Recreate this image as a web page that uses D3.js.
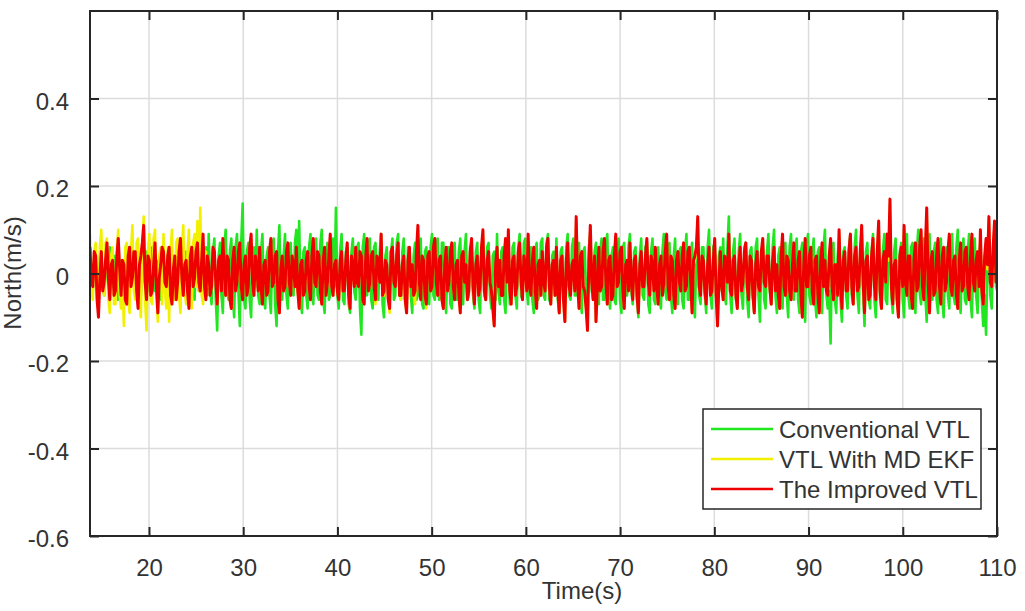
<!DOCTYPE html>
<html>
<head>
<meta charset="utf-8">
<script src="https://cdn.jsdelivr.net/npm/d3@7"></script>
<style>
  html, body { margin: 0; padding: 0; background: #fff; }
  svg { display: block; font-family: "Liberation Sans", Arial, sans-serif; }
</style>
</head>
<body>
<div id="chart"></div>
<script>
// Sampling of the velocity error series (seconds)
const sampleStart = 13.74;
const sampleStep = 0.15;

// North velocity error, in units of 0.01 m/s
const conventionalVTL = [
  3,-2,-4,3,5,-3,-2,4,4,-3,-5,2,2,-4,6,-2,-3,4,4,-3,
  -6,2,3,-4,-2,4,5,-3,-4,2,6,-3,-3,4,2,-4,-5,3,4,-2,
  5,-4,-3,4,6,-2,-4,3,2,-4,-6,3,4,-3,-2,4,5,-3,-5,3,
  3,-3,-4,4,6,-2,-3,4,5,-4,-2,3,4,-3,-6,4,3,-4,5,-2,
  -4,3,6,-5,9,-3,-7,5,8,-6,-13,4,7,-5,-9,6,10,-4,-6,5,
  8,-5,-10,6,9,-4,-12,7,16,-6,-8,5,7,-6,-10,4,6,-3,10,-5,
  -7,5,9,-6,-8,4,6,-5,-9,6,8,-7,-12,5,11,-6,-6,4,9,-5,
  -8,6,7,-4,-5,7,10,-3,12,-6,-9,5,6,-5,-8,6,9,-5,-7,4,
  8,-5,-6,7,10,-6,-9,4,7,-6,-5,6,8,-3,15,-5,-8,5,9,-6,
  -7,5,6,-7,-9,5,8,-4,-6,6,7,-8,-14,6,9,-4,-5,6,8,-6,
  -8,6,7,-5,-6,5,9,-7,-10,4,6,-6,-7,5,8,-6,-5,7,9,-5,
  -6,5,8,-6,-7,6,6,-5,-9,4,7,-6,-5,6,8,-7,-8,5,6,-5,
  -7,6,9,-5,-6,5,8,-6,-5,7,7,-4,-9,6,6,-7,-8,4,7,-6,
  -6,5,8,-7,-7,5,9,-6,-5,6,6,-5,-8,5,7,-6,-9,4,8,-5,
  -6,6,7,-5,-8,4,5,-6,9,-4,-7,5,6,-6,-9,5,8,-7,-5,6,
  7,-5,-8,6,9,-5,-6,7,8,-4,-7,5,6,-6,-9,5,7,-6,-5,7,
  8,-5,-6,7,9,-6,-7,4,5,-5,8,-6,-9,5,6,-6,-7,6,9,-5,
  -6,6,8,-5,-5,6,7,-6,-9,5,6,-5,-8,6,9,-4,-6,5,7,-6,
  -7,5,8,-6,-6,7,9,-5,-8,4,6,-6,-7,5,8,-6,-9,6,7,-5,
  -5,6,9,-4,-7,5,6,-6,-10,4,8,-5,-6,6,7,-7,-9,5,8,-6,
  -7,5,6,-6,-8,5,9,-4,-6,6,7,-5,-9,4,8,-6,-7,5,6,-6,
  -8,5,9,-6,-6,4,7,-6,-10,5,8,-5,-7,6,6,-5,-9,6,10,-5,
  -8,6,7,-5,-9,4,6,-4,8,-5,-7,6,13,-5,-9,5,8,-6,-6,5,
  9,-5,-8,6,7,-6,-10,5,6,-5,-9,6,8,-5,-11,4,7,-6,-8,5,
  9,-4,-7,6,10,-5,-9,4,6,-6,-8,5,7,-5,-10,6,9,-5,-6,6,
  8,-6,-9,5,7,-6,-11,6,9,-5,-7,4,8,-6,-10,5,6,-5,-9,6,
  10,-5,-8,-4,-16,5,7,-6,-9,4,8,-6,-11,5,6,-5,-8,6,9,-5,
  -7,6,10,-5,-9,6,8,-4,-12,5,7,-6,-8,5,9,-6,-10,4,6,-6,
  -8,5,9,-6,-7,6,10,-5,-9,5,8,-6,-6,5,7,-6,-10,6,9,-5,
  -8,6,7,-5,-9,5,10,-4,-7,6,8,-5,-11,4,9,-6,-6,5,7,-6,
  -9,5,8,-6,-10,4,6,-5,-8,6,9,-5,-7,6,10,-5,-9,4,8,-6,
  -7,5,9,-6,-10,5,8,-5,-9,4,7,-6,-12,-5,-14,3,6,-5,-8,4,
  9,-3,-4
];

const mdEkfVTL = [
  9,-4,-6,5,7,-5,-8,6,10,-3,-5,7,8,-6,-9,4,6,-7,-7,6,
  10,-5,-8,-3,-12,6,7,-6,-9,5,11,-4,-6,7,8,-5,-10,6,13,-6,
  -13,5,9,-6,-7,8,10,-5,-11,4,6,-7,9,-4,-8,6,-11,5,10,-6,
  -6,7,8,-5,-9,6,11,-4,-7,5,10,-6,-8,7,9,-3,12,-4,15,-5,
  -7,4,5,-3,1,-5,-3,5,4,-2,-7,2,3,-4,7,0,-5,3,2,-6,
  -8,2,5,-4,-2,4,6,-3,-6,1,3,-5,-3,5,8,-2,-5,3,1,-4,
  5,-3,-7,1,2,-5,-4,4,7,-3,-2,3,4,-6,-9,0,3,-4,-3,4,
  6,-2,-5,3,1,-3,5,-4,-8,1,2,-5,-4,2,4,-3,-6,3,7,-2,
  -3,4,3,-4,-7,2,5,-5,-2,3,8,-3,-5,1,2,-4,-6,2,4,-4,
  -4,2,6,-5,-8,3,1,-3,5,-2,-3,4,3,-6,-7,2,7,-4,-2,3,
  4,-3,-7,3,2,-2,8,-5,-5,2,1,-6,-9,4,5,-2,-3,3,6,-5,
  -6,1,3,-6,-9,2,5,-3,1,-5,-7,4,10,-2,-6,3,2,-5,-8,3,
  4,-4,-3,5,7,-2,-5,2,3,-6,-8,1,5,-4,-2,4,6,-3,-6,1,
  2,-5,-9,3,4,-2,1,-6,-4,4,7,-3,-7,1,3,-5,-3,5,9,-4,
  -6,2,4,-2,-4,-8,-12,1,5,-3,2,-5,-5,3,7,-2,9,-4,-7,2,
  3,-5,-3,4,6,-2,-6,3,1,-4,8,-3,-5,2,5,-4,-8,1,2,-5,
  4,-2,-4,5,7,-3,-7,1,2,-5,5,-4,-9,2,3,-6,-11,2,6,-3,
  -5,1,2,-4,12,-2,-8,3,4,-3,-4,-8,-13,2,10,-2,-6,3,-11,-3,
  5,-4,-3,4,7,-2,-7,2,3,-6,-5,3,8,-3,-2,4,5,-4,-8,1,
  2,-4,6,-2,-6,2,3,-5,-9,1,4,-3,-3,3,7,-2,-5,3,1,-4,
  5,-3,-7,1,3,-5,-2,4,8,-3,-6,3,2,-5,-8,2,4,-2,-4,3,
  6,-4,-3,4,5,-2,-9,2,3,5,12,-3,-5,3,2,-4,-7,1,5,-5,
  -4,2,7,-5,-12,-2,4,-3,-6,3,2,-2,8,-4,-5,2,3,-5,-8,1,
  5,-4,-2,4,6,-3,-6,3,2,-5,-9,1,4,-3,-4,4,7,-2,-3,3,
  3,-3,-7,2,5,-4,1,-5,-8,3,8,-3,-5,3,2,-4,-6,1,6,-4,
  -4,2,4,-5,-10,1,7,-3,-3,3,5,-4,-7,2,3,-5,-9,2,6,-3,
  2,-4,-5,3,7,-3,-6,1,1,-5,9,-2,-8,2,4,-4,-4,4,8,-3,
  -7,3,5,-4,-3,4,10,-2,-9,2,3,-6,-5,3,7,-3,-6,4,11,-4,
  -8,2,4,-2,8,3,16,-3,-7,1,2,-6,-10,3,5,-3,10,-2,-5,3,
  3,-5,-8,2,6,-4,-3,5,9,-3,-6,4,14,-2,-9,2,4,-5,-4,3,
  7,-3,-7,3,5,-4,-2,4,8,-3,-5,2,3,-5,-8,2,6,-4,-3,4,
  5,-3,-6,3,8,-2,-4,2,4,-3,9,-4,-7,3,7,1,12,-2,-3,5,
  11,-2,3
];

const improvedVTL = [
  6,-2,-3,5,4,-6,-10,-1,5,-4,-2,3,7,-1,-6,2,3,-5,-4,4,
  8,1,-5,3,2,-6,-7,4,6,-3,-1,5,5,-4,-8,2,4,7,11,-2,
  -6,4,3,-5,-4,2,7,-3,-9,-1,2,6,5,-2,-3,4,6,-5,-7,1,
  4,-6,-2,5,8,-1,-5,2,3,-4,-8,4,6,-3,-1,5,7,-2,-4,3,
  9,-3,-6,4,2,-5,-3,6,5,-2,-7,3,4,-4,8,1,-5,4,3,-6,
  -8,3,6,-4,-2,5,7,-3,-6,2,4,-5,-3,6,9,-2,-5,4,2,-4,
  6,-3,-7,2,3,-5,-4,5,8,-3,-2,4,5,-6,-9,1,4,-4,-3,5,
  7,-2,-5,4,2,-3,6,-4,-8,2,3,-5,-4,3,5,-3,-6,4,8,-2,
  -3,5,4,-4,-7,3,6,-5,-2,4,9,-3,-5,2,3,-4,-6,3,5,-4,
  -4,3,7,-5,-8,4,2,-3,6,-2,-3,5,4,-6,-7,3,8,-4,-2,4,
  5,-3,-6,4,3,-2,9,-5,-4,3,2,-6,-8,5,6,-2,-3,4,7,-5,
  -5,2,4,-6,-9,3,6,-3,2,-5,-4,5,11,-2,-6,4,3,-5,-7,4,
  5,-4,-3,6,8,-2,-5,3,4,-6,-8,2,6,-4,-2,5,7,-3,-6,2,
  3,-5,-9,4,5,-2,2,-6,-4,5,8,-3,-7,2,4,-5,-3,6,10,-4,
  -6,3,5,-2,-4,-8,-12,2,6,-3,3,-5,-5,4,8,-2,10,-4,-7,3,
  4,-5,-3,5,7,-2,-6,4,2,-4,9,-3,-5,3,6,-4,-8,2,3,-5,
  5,-2,-4,6,8,-3,-7,2,3,-5,6,-4,-9,3,4,-6,-11,3,7,-3,
  -5,2,3,-4,13,-2,-8,4,5,-3,-4,-8,-13,3,11,-2,-6,4,-11,-3,
  6,-4,-3,5,8,-2,-7,3,4,-6,-5,4,9,-3,-2,5,6,-4,-8,2,
  3,-4,7,-2,-6,3,4,-5,-9,2,5,-3,-3,4,8,-2,-5,4,2,-4,
  6,-3,-7,2,4,-5,-2,5,9,-3,-6,4,3,-5,-8,3,5,-2,-4,4,
  7,-4,-3,5,6,-2,-9,3,4,6,13,-3,-5,4,3,-4,-7,2,6,-5,
  -4,3,8,-5,-12,-2,5,-3,-6,4,3,-2,9,-4,-5,3,4,-5,-8,2,
  6,-4,-2,5,7,-3,-6,4,3,-5,-9,2,5,-3,-4,5,8,-2,-3,4,
  4,-3,-7,3,6,-4,2,-5,-8,4,9,-3,-5,4,3,-4,-6,2,7,-4,
  -4,3,5,-5,-10,2,8,-3,-3,4,6,-4,-7,3,4,-5,-9,3,7,-3,
  3,-4,-5,4,8,-3,-6,2,2,-5,10,-2,-8,3,5,-4,-4,5,9,-3,
  -7,4,6,-4,-3,5,11,-2,-9,3,4,-6,-5,4,8,-3,-6,5,12,-4,
  -8,3,5,-2,9,4,17,-3,-7,2,3,-6,-10,4,6,-3,11,-2,-5,4,
  4,-5,-8,3,7,-4,-3,6,10,-3,-6,5,15,-2,-9,3,5,-5,-4,4,
  8,-3,-7,4,6,-4,-2,5,9,-3,-5,3,4,-5,-8,3,7,-4,-3,5,
  6,-3,-6,4,9,-2,-4,3,5,-3,10,-4,-7,4,8,2,13,-2,-3,6,
  12,-2,4
];

const seriesNames = ['Conventional VTL', 'VTL With MD EKF', 'The Improved VTL'];
const seriesColors = ['#22e622', '#f2f000', '#ee0000'];
const seriesWidths = [2.6, 2.6, 3];
const xTicks = [20, 30, 40, 50, 60, 70, 80, 90, 100, 110];
const yTicks = [-0.6, -0.4, -0.2, 0, 0.2, 0.4];

const width = 1025, height = 611;
const margin = { top: 11, right: 28, bottom: 75, left: 90 };
const inkColor = '#262626';
const textColor = '#333';

const svg = d3.select('#chart')
  .append('svg')
  .attr('width', width)
  .attr('height', height);

const x = d3.scaleLinear()
  .domain([13.74, 110])
  .range([margin.left, width - margin.right]);

const y = d3.scaleLinear()
  .domain([-0.6, 0.6])
  .range([height - margin.bottom, margin.top]);

const plotW = x.range()[1] - x.range()[0];
const plotH = y.range()[0] - y.range()[1];

// Grid
const grid = svg.append('g').attr('class', 'grid');
grid.selectAll('line.gx')
  .data(xTicks)
  .enter().append('line')
  .attr('class', 'gx')
  .attr('x1', d => x(d)).attr('x2', d => x(d))
  .attr('y1', margin.top).attr('y2', y.range()[0])
  .attr('stroke', '#dcdcdc')
  .attr('stroke-width', 1.5);
grid.selectAll('line.gy')
  .data(yTicks)
  .enter().append('line')
  .attr('class', 'gy')
  .attr('x1', margin.left).attr('x2', x.range()[1])
  .attr('y1', d => y(d)).attr('y2', d => y(d))
  .attr('stroke', '#dcdcdc')
  .attr('stroke-width', 1.5);

// Clip for the traces
svg.append('clipPath')
  .attr('id', 'plot-clip')
  .append('rect')
  .attr('x', margin.left)
  .attr('y', margin.top)
  .attr('width', plotW)
  .attr('height', plotH);

const line = d3.line()
  .x((d, i) => x(sampleStart + i * sampleStep))
  .y(d => y(d / 100));

const traces = svg.append('g').attr('clip-path', 'url(#plot-clip)');
[conventionalVTL, mdEkfVTL, improvedVTL].forEach((values, k) => {
  traces.append('path')
    .datum(values)
    .attr('d', line)
    .attr('fill', 'none')
    .attr('stroke', seriesColors[k])
    .attr('stroke-width', seriesWidths[k])
    .attr('stroke-linejoin', 'round');
});

// Axes (MATLAB box style, ticks pointing inward)
const tickLen = 9;
const yFormat = d => d === 0 ? '0' : d3.format('.1f')(d).replace('\u2212', '-');
const xAxisBottom = d3.axisBottom(x).tickValues(xTicks).tickSize(-tickLen).tickPadding(tickLen + 14).tickFormat(d3.format('d'));
const xAxisTop = d3.axisTop(x).tickValues(xTicks).tickSize(-tickLen).tickFormat('');
const yAxisLeft = d3.axisLeft(y).tickValues(yTicks).tickSize(-tickLen).tickPadding(tickLen + 12).tickFormat(yFormat);
const yAxisRight = d3.axisRight(y).tickValues(yTicks).tickSize(-tickLen).tickFormat('');

function styleAxis(g) {
  g.select('.domain').remove();
  g.selectAll('.tick line').attr('stroke', inkColor).attr('stroke-width', 2);
  g.selectAll('.tick text')
    .attr('fill', textColor)
    .style('font-size', '24px')
    .style('font-family', '"Liberation Sans", Arial, sans-serif');
}

svg.append('g')
  .attr('transform', `translate(0,${y.range()[0]})`)
  .call(xAxisBottom)
  .call(styleAxis)
  .call(g => g.selectAll('.tick text').attr('dy', '0.71em'));

svg.append('g')
  .attr('transform', `translate(0,${margin.top})`)
  .call(xAxisTop)
  .call(styleAxis);

svg.append('g')
  .attr('transform', `translate(${margin.left},0)`)
  .call(yAxisLeft)
  .call(styleAxis)
  .call(g => g.selectAll('.tick text').attr('dy', '0.45em'));

svg.append('g')
  .attr('transform', `translate(${x.range()[1]},0)`)
  .call(yAxisRight)
  .call(styleAxis);

// Frame
svg.append('rect')
  .attr('x', margin.left)
  .attr('y', margin.top)
  .attr('width', plotW)
  .attr('height', plotH)
  .attr('fill', 'none')
  .attr('stroke', inkColor)
  .attr('stroke-width', 2);

// Axis titles
svg.append('text')
  .attr('x', 582)
  .attr('y', 599)
  .attr('text-anchor', 'middle')
  .attr('fill', textColor)
  .style('font-size', '24px')
  .text('Time(s)');

svg.append('text')
  .attr('transform', 'translate(21,273) rotate(-90)')
  .attr('text-anchor', 'middle')
  .attr('fill', textColor)
  .style('font-size', '24px')
  .text('North(m/s)');

// Legend
const legend = svg.append('g').attr('transform', 'translate(703,409)');
legend.append('rect')
  .attr('width', 278)
  .attr('height', 100)
  .attr('fill', '#fff')
  .attr('stroke', inkColor)
  .attr('stroke-width', 1.5);

const rows = legend.selectAll('g.row')
  .data(seriesNames)
  .enter().append('g')
  .attr('class', 'row')
  .attr('transform', (d, i) => `translate(0,${20 + i * 30})`);

rows.append('line')
  .attr('x1', 8).attr('x2', 70)
  .attr('y1', 0).attr('y2', 0)
  .attr('stroke', (d, i) => seriesColors[i])
  .attr('stroke-width', 2.5);

rows.append('text')
  .attr('x', 76)
  .attr('y', 9)
  .attr('fill', textColor)
  .style('font-size', '24px')
  .text(d => d);
</script>
</body>
</html>
